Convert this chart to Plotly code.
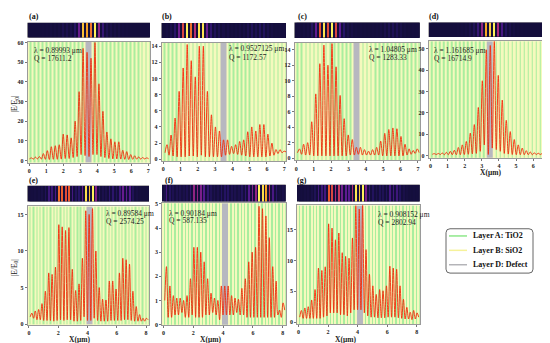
import numpy as np
import plotly.graph_objects as go

# ---------------- data ----------------
PERIOD_TOP = 7 / 30   # spacing of field maxima (um), panels a-d
PERIOD_BOT = 0.23     # panels e-g

panel_names = ["a", "b", "c", "d", "e", "f", "g"]
wavelengths = ["0.89993", "0.9527125", "1.04805", "1.161685", "0.89584", "0.90184", "0.908152"]
q_factors = ["17611.2", "1172.57", "1283.33", "16714.9", "2574.25", "587.135", "2802.94"]
first_peak = {"a": 0.133, "b": 0.22, "c": 0.19, "d": 0.23, "e": 0.2, "f": 0.2, "g": 0.2}

peaks_a = [1.3, 1.7, 2.0, 3.5, 5.0, 7.0, 7.5, 8.0, 13.4, 13.0, 11.5, 20.0, 35.0, 57.0, 55.0,
           52.0, 60.0, 39.0, 25.0, 14.5, 11.0, 9.5, 9.5, 5.2, 4.5, 3.0, 2.4, 1.8, 1.5, 1.3]
troughs_a = [0.8, 0.7, 0.8, 0.7, 0.6, 0.5, 0.6, 0.6, 0.7, 1.0, 1.0, 1.5, 2.0, 3.0, 2.5, 2.0,
             3.0, 3.0, 2.0, 1.5, 1.0, 0.8, 0.8, 0.7, 0.6, 0.5, 0.6, 0.7, 0.7, 0.8, 0.9]

peaks_b = [1.8, 3.0, 5.1, 8.4, 11.3, 14.2, 12.2, 10.2, 14.0, 14.0, 8.4, 5.5, 4.0, 3.5, 2.4,
           2.4, 1.6, 1.8, 2.2, 2.4, 3.4, 4.0, 3.5, 4.3, 4.3, 3.1, 2.0, 1.2, 1.2, 1.0]
troughs_b = [0.8, 0.5, 0.4, 0.3, 0.3, 0.3, 0.4, 0.4, 0.3, 0.5, 0.3, 0.3, 0.3, 0.3, 0.3, 0.5,
             0.6, 0.7, 0.6, 0.5, 0.4, 0.3, 0.3, 0.3, 0.3, 0.3, 0.4, 0.5, 0.7, 0.8, 0.9]

peaks_c = [1.2, 1.8, 2.0, 4.7, 8.3, 12.2, 14.6, 12.0, 14.8, 11.8, 8.1, 5.1, 3.0, 2.4, 1.4,
           1.4, 1.1, 0.9, 1.1, 1.4, 2.2, 3.2, 3.7, 3.9, 3.8, 2.8, 1.8, 1.2, 1.0, 1.2]
troughs_c = [0.7, 0.5, 0.4, 0.4, 0.3, 0.3, 0.3, 0.3, 0.3, 0.3, 0.3, 0.3, 0.3, 0.4, 0.4, 0.5,
             0.4, 0.4, 0.4, 0.4, 0.4, 0.3, 0.3, 0.3, 0.3, 0.3, 0.3, 0.4, 0.5, 0.6, 0.7]

peaks_d = [0.9, 1.0, 1.2, 1.5, 2.0, 2.5, 3.8, 5.0, 6.6, 10.5, 14.5, 22.5, 35.0, 49.5, 51.5,
           53.5, 37.5, 26.0, 16.5, 11.2, 7.5, 5.0, 3.5, 2.3, 1.7, 1.3, 1.1, 1.0, 1.0, 1.0]
troughs_d = [0.6, 0.5, 0.5, 0.4, 0.4, 0.4, 0.4, 0.4, 0.5, 0.6, 0.8, 1.0, 2.0, 5.0, 0.5, 3.5,
             2.8, 2.0, 1.0, 0.7, 0.5, 0.4, 0.4, 0.4, 0.4, 0.4, 0.5, 0.5, 0.6, 0.6, 0.7]

peaks_e = [1.5, 1.8, 2.0, 2.8, 4.5, 7.0, 6.8, 7.8, 13.6, 13.3, 12.8, 13.2, 7.5, 4.6, 5.5,
           9.0, 15.5, 15.0, 15.8, 10.0, 5.0, 3.4, 3.3, 5.9, 5.9, 4.8, 7.0, 9.0, 8.8, 8.2,
           4.5, 2.4, 1.3, 0.8, 0.8]
troughs_e = [1.0, 0.8, 0.6, 0.6, 0.5, 0.5, 0.5, 0.4, 0.5, 0.6, 0.5, 0.6, 0.6, 0.4, 0.4, 0.5,
             1.0, 0.5, 0.5, 0.8, 0.5, 0.4, 0.4, 0.4, 0.5, 0.5, 0.5, 0.5, 0.6, 0.6, 0.5, 0.4,
             0.4, 0.4, 0.4, 0.6]

peaks_f = [2.4, 1.6, 1.2, 1.1, 1.1, 1.0, 1.2, 1.9, 3.2, 3.2, 3.0, 2.6, 1.9, 1.3, 1.1, 1.0,
           1.6, 1.6, 1.6, 1.2, 1.1, 1.05, 1.5, 1.9, 2.6, 3.0, 3.2, 4.9, 4.8, 4.5, 3.6, 2.4,
           1.8, 0.6, 0.9]
troughs_f = [1.0, 0.3, 0.3, 0.4, 0.4, 0.5, 0.3, 0.3, 0.4, 0.3, 0.3, 0.3, 0.4, 0.4, 0.5, 0.4,
             0.2, 0.4, 0.4, 0.4, 0.4, 0.5, 0.4, 0.4, 0.3, 0.3, 0.3, 0.3, 0.3, 0.3, 0.3, 0.3,
             0.3, 0.4, 0.3, 0.6]

peaks_g = [1.9, 2.3, 2.5, 3.6, 5.3, 8.8, 8.4, 9.0, 16.0, 15.3, 13.4, 14.5, 11.3, 10.7, 10.4,
           13.7, 19.0, 18.4, 19.2, 11.8, 7.8, 5.9, 4.5, 5.3, 5.1, 5.9, 9.1, 8.8, 8.6, 5.9,
           3.7, 2.4, 1.6, 1.9, 1.5]
troughs_g = [0.8, 0.6, 0.6, 0.6, 0.6, 0.6, 0.6, 0.8, 1.0, 1.5, 1.5, 1.5, 1.2, 1.2, 1.0, 1.5,
             2.0, 2.0, 2.0, 1.5, 1.0, 0.8, 0.8, 0.7, 0.7, 0.7, 0.8, 0.8, 0.8, 0.7, 0.6, 0.5,
             0.5, 0.4, 0.5, 0.8]

peaks = dict(a=peaks_a, b=peaks_b, c=peaks_c, d=peaks_d, e=peaks_e, f=peaks_f, g=peaks_g)
troughs = dict(a=troughs_a, b=troughs_b, c=troughs_c, d=troughs_d, e=troughs_e, f=troughs_f, g=troughs_g)

# layer stacks (A: TiO2, B: SiO2, D: defect)
layers_top = ["B"] + ["A", "B"] * 14 + ["D"] + ["B", "A"] * 15
layers_bot = ["B"] + ["A", "B"] * 17 + ["D"] + ["B", "A"] * 17
thick_top = {"A": 0.095, "B": 0.1383, "D": 0.35}
thick_bot = {"A": 0.095, "B": 0.135, "D": 0.4}
stack_start = -0.1

legend_keys = ["A", "B", "D"]
legend_names = {"A": "Layer A: TiO2", "B": "Layer B: SiO2", "D": "Layer D: Defect"}

# ---------------- style / geometry ----------------
W, H = 550, 343
FONT = "Liberation Serif, Times New Roman, serif"
layer_code = {"A": 0, "B": 1, "D": 2}
layer_scale = [[0, "#a9ee9e"], [0.25, "#a9ee9e"], [0.25, "#f5f9bd"], [0.75, "#f5f9bd"],
               [0.75, "#b7b7c0"], [1, "#b7b7c0"]]
legend_line = {"A": "#8ee88a", "B": "#f6f29a", "D": "#b4b4b8"}
heat_scale = [[0.0, "#140e3c"], [0.12, "#261466"], [0.3, "#5a1a92"], [0.5, "#b02a7a"],
              [0.68, "#e8502e"], [0.85, "#f7a522"], [1.0, "#fff25a"]]

geom = {
    "a": dict(x=(19.5, 142), y=(32, 155), hy=(13, 28), yr=(-1.15, 60.5), dt=10),
    "b": dict(x=(153.5, 278), y=(33, 153.5), hy=(13.3, 28.3), yr=(-0.25, 14.45), dt=2),
    "c": dict(x=(286.5, 411.7), y=(33.3, 152.7), hy=(12.7, 28.3), yr=(-0.3, 14.9), dt=2),
    "d": dict(x=(420.7, 544), y=(31.7, 150), hy=(12.7, 27.3), yr=(-1.05, 53.5), dt=10),
    "e": dict(x=(19.5, 141), y=(199.3, 319.5), hy=(178.3, 194.3), yr=(-0.1, 16.1), dt=5),
    "f": dict(x=(154, 277.7), y=(196, 319.5), hy=(177.3, 194.3), yr=(-0.01, 5.03), dt=1),
    "g": dict(x=(289, 411.7), y=(198.3, 319), hy=(177.3, 194.3), yr=(-0.37, 19.0), dt=5),
}
lamq_pos = {"a": (24, 41, 49.5), "b": (219, 39, 47.7), "c": (359, 40, 47.7), "d": (424, 40.7, 49.3),
            "e": (95.5, 207, 215), "f": (158.5, 206.7, 214), "g": (367.7, 208, 215.5)}
label_pos = {"a": (19, 7), "b": (152, 7), "c": (288, 7), "d": (419, 7),
             "e": (19, 173), "f": (155, 173), "g": (287, 173)}


def px(v):
    return v / W


def py(v):
    return 1 - v / H


fig = go.Figure()
layout = {}
annotations = []
shapes = []

for i, p in enumerate(panel_names):
    g = geom[p]
    top = p in "abcd"
    P = PERIOD_TOP if top else PERIOD_BOT
    xr = (-0.1, 7.1) if top else (-0.1, 8.2)
    na, nh = 2 * i + 1, 2 * i + 2
    xa = "x" if na == 1 else f"x{na}"
    ya = "y" if na == 1 else f"y{na}"
    xh, yh = f"x{nh}", f"y{nh}"

    # curve from extrema
    pk, tr = peaks[p], troughs[p]
    x0 = first_peak[p]
    xs, ys = [], []
    for k in range(len(tr)):
        xs.append(x0 - P / 2 + k * P)
        ys.append(tr[k])
        if k < len(pk):
            xs.append(x0 + k * P)
            ys.append(pk[k])
    xs = np.array(xs)
    ys = np.array(ys)

    # layer stripes as a one-row heatmap with explicit layer edges
    seq = layers_top if top else layers_bot
    th = thick_top if top else thick_bot
    widths = np.array([th[s] for s in seq])
    edges = stack_start + np.concatenate([[0], np.cumsum(widths)])
    y0, y1 = g["yr"]
    fig.add_trace(go.Heatmap(x=edges, y=[y0, y1], z=[[layer_code[s] for s in seq]],
                             colorscale=layer_scale, zmin=0, zmax=2, showscale=False,
                             xaxis=xa, yaxis=ya, hoverinfo="skip"))
    fig.add_trace(go.Scatter(x=xs, y=ys, mode="lines",
                             line=dict(color="#f22a0a", width=0.9, shape="spline", smoothing=1.0),
                             xaxis=xa, yaxis=ya, showlegend=False, hoverinfo="skip"))

    # intensity strip
    z = (ys ** 2) / (ys ** 2).max()
    fig.add_trace(go.Heatmap(x=xs, y=[0], z=[z], colorscale=heat_scale, zmin=0, zmax=1,
                             showscale=False, xaxis=xh, yaxis=yh, hoverinfo="skip"))
    shapes.append(dict(type="rect", xref=xh, yref=yh, x0=-1, x1=10, y0=-1, y1=1,
                       fillcolor="#140e3c", line=dict(width=0), layer="below"))

    dom_x = [px(g["x"][0]), px(g["x"][1])]
    tickfont = dict(family=FONT, size=6, color="#222", weight="bold")
    layout["xaxis" if na == 1 else f"xaxis{na}"] = dict(
        domain=dom_x, range=list(xr), anchor=ya, dtick=1 if top else 2, tick0=0,
        showline=True, mirror=True, linecolor="#9a9a9a", linewidth=0.8,
        ticks="outside", ticklen=2, tickwidth=0.6, tickcolor="#777", tickfont=tickfont,
        showgrid=False, zeroline=False, fixedrange=True)
    layout["yaxis" if na == 1 else f"yaxis{na}"] = dict(
        domain=[py(g["y"][1]), py(g["y"][0])], range=list(g["yr"]), anchor=xa,
        dtick=g["dt"], tick0=0, showline=True, mirror=True, linecolor="#9a9a9a",
        linewidth=0.8, ticks="outside", ticklen=2, tickwidth=0.6, tickcolor="#777",
        tickfont=tickfont, showgrid=False, zeroline=False, fixedrange=True)
    layout[f"xaxis{nh}"] = dict(domain=dom_x, range=list(xr), anchor=yh, visible=False,
                                fixedrange=True)
    layout[f"yaxis{nh}"] = dict(domain=[py(g["hy"][1]), py(g["hy"][0])], range=[-0.5, 0.5],
                                anchor=xh, visible=False, fixedrange=True)

    lx, ly1, ly2 = lamq_pos[p]
    annotations.append(dict(text=f"λ = {wavelengths[i]} μm", x=px(lx), y=py(ly1), xref="paper",
                            yref="paper", xanchor="left", yanchor="middle", showarrow=False,
                            font=dict(family=FONT, size=7.5, color="#222")))
    annotations.append(dict(text=f"Q = {q_factors[i]}", x=px(lx), y=py(ly2), xref="paper",
                            yref="paper", xanchor="left", yanchor="middle", showarrow=False,
                            font=dict(family=FONT, size=7.5, color="#222")))
    bx, by = label_pos[p]
    annotations.append(dict(text=f"<b>({p})</b>", x=px(bx), y=py(by), xref="paper", yref="paper",
                            xanchor="left", yanchor="middle", showarrow=False,
                            font=dict(family=FONT, size=8, color="#111")))

# axis titles
for (tx, ty) in [(482, 165), (71, 334), (202, 334), (337, 334)]:
    annotations.append(dict(text="<b>X(μm)</b>", x=px(tx), y=py(ty), xref="paper", yref="paper",
                            xanchor="center", yanchor="middle", showarrow=False,
                            font=dict(family=FONT, size=7.5, color="#222")))
for ty in (96, 262):
    annotations.append(dict(text="|E/E<sub>0</sub>|", x=px(7), y=py(ty), xref="paper", yref="paper",
                            xanchor="center", yanchor="middle", showarrow=False, textangle=-90,
                            font=dict(family=FONT, size=7.5, color="#222")))

# hand-drawn legend box (rounded corners)
bx0, bx1, by0, by1, r = 438, 525, 222, 267, 4
path = (f"M {px(bx0 + r)},{py(by0)} L {px(bx1 - r)},{py(by0)} "
        f"Q {px(bx1)},{py(by0)} {px(bx1)},{py(by0 + r)} L {px(bx1)},{py(by1 - r)} "
        f"Q {px(bx1)},{py(by1)} {px(bx1 - r)},{py(by1)} L {px(bx0 + r)},{py(by1)} "
        f"Q {px(bx0)},{py(by1)} {px(bx0)},{py(by1 - r)} L {px(bx0)},{py(by0 + r)} "
        f"Q {px(bx0)},{py(by0)} {px(bx0 + r)},{py(by0)} Z")
shapes.append(dict(type="path", path=path, xref="paper", yref="paper",
                   line=dict(color="#666", width=1), fillcolor="white", layer="above"))
for j, key in enumerate(legend_keys):
    ly = 229.3 + j * 14.6
    shapes.append(dict(type="line", xref="paper", yref="paper", x0=px(441), x1=px(459),
                       y0=py(ly), y1=py(ly), line=dict(color=legend_line[key], width=1.5),
                       layer="above"))
    annotations.append(dict(text=f"<b>{legend_names[key]}</b>", x=px(463), y=py(ly),
                            xref="paper", yref="paper", xanchor="left", yanchor="middle",
                            showarrow=False, font=dict(family=FONT, size=8, color="#111")))

fig.update_layout(
    width=W, height=H, margin=dict(l=0, r=0, t=0, b=0),
    paper_bgcolor="white", plot_bgcolor="#f5f9bd",
    annotations=annotations, shapes=shapes,
    showlegend=False,
    **layout,
)

fig.write_html("out.html")
